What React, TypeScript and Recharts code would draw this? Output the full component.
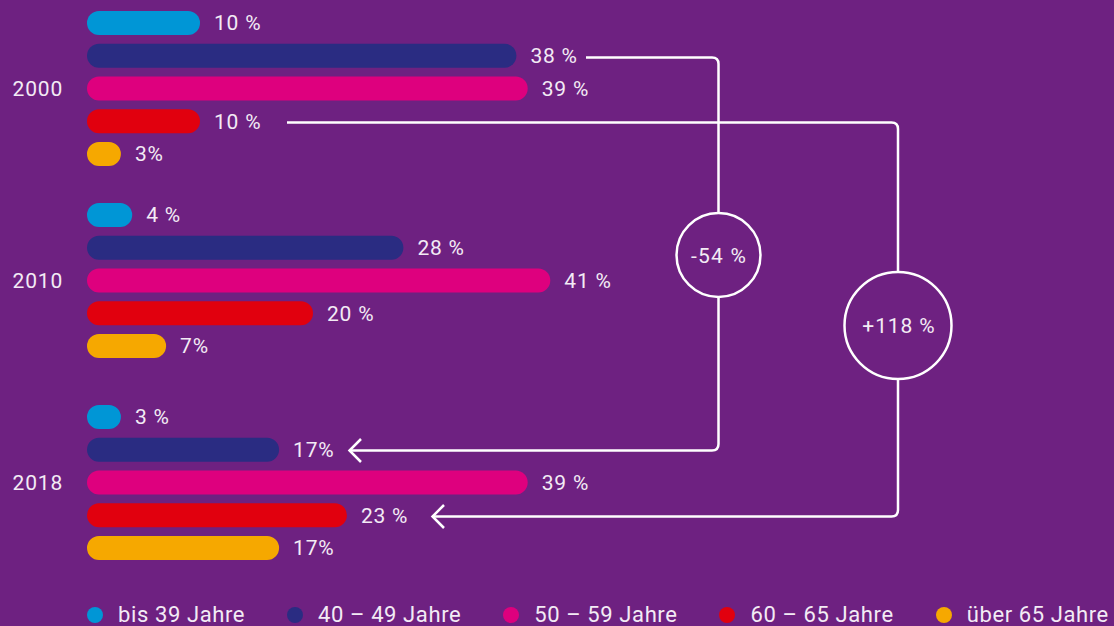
import React from 'react';
import { BarChart, Bar, XAxis, YAxis, Cell, LabelList } from 'recharts';

const ageGroups = ['bis 39 Jahre', '40 – 49 Jahre', '50 – 59 Jahre', '60 – 65 Jahre', 'über 65 Jahre'];
const years = ['2000', '2010', '2018'];
const values2000 = [10, 38, 39, 10, 3];
const values2010 = [4, 28, 41, 20, 7];
const values2018 = [3, 17, 39, 23, 17];
const labels2000 = ['10 %', '38 %', '39 %', '10 %', '3%'];
const labels2010 = ['4 %', '28 %', '41 %', '20 %', '7%'];
const labels2018 = ['3 %', '17%', '39 %', '23 %', '17%'];
const changeLabels = ['-54 %', '+118 %'];
const colors = ['#0096D6', '#2A2C82', '#DE007E', '#E1000E', '#F6A800'];

const BG = '#6E2181';
const TXT = '#F3EBF5';
const FONT = 'Roboto, "Noto Sans", sans-serif';

const groups = [
  { year: years[0], values: values2000, labels: labels2000, top: 6.6 },
  { year: years[1], values: values2010, labels: labels2010, top: 198.6 },
  { year: years[2], values: values2018, labels: labels2018, top: 400.6 },
];

const buildRows = (values: number[], labels: string[]) =>
  ageGroups.map((age, i) => ({ age, value: values[i], label: labels[i] }));

function GroupChart({ year, values, labels }: { year: string; values: number[]; labels: string[] }) {
  const rows = buildRows(values, labels);
  return (
    <BarChart
      layout="vertical"
      width={652}
      height={163.75}
      data={rows}
      margin={{ top: 0, right: 0, bottom: 0, left: 0 }}
      barCategoryGap={0}
    >
      <XAxis type="number" domain={[0, 50]} hide />
      <YAxis
        type="category"
        dataKey="age"
        width={87}
        axisLine={false}
        tickLine={false}
        tickSize={0}
        tickMargin={24}
        interval={0}
        tick={{ fill: TXT, fontSize: 21, fontFamily: FONT }}
        tickFormatter={(v: string, i: number) => (i === 2 ? year : '')}
      />
      <Bar dataKey="value" barSize={24} radius={12} isAnimationActive={false}>
        {rows.map((r, i) => (
          <Cell key={r.age} fill={colors[i]} />
        ))}
        <LabelList
          dataKey="label"
          position="right"
          offset={14}
          fill={TXT}
          fontSize={21}
          fontFamily={FONT}
        />
      </Bar>
    </BarChart>
  );
}

function Connectors() {
  const s = { stroke: '#FFFFFF', strokeWidth: 2.5, fill: 'none' };
  return (
    <svg width={1114} height={626} style={{ position: 'absolute', left: 0, top: 0, pointerEvents: 'none' }}>
      <path d="M 586 57.5 H 712 Q 718.5 57.5 718.5 64 V 213" {...s} />
      <circle cx={718.5} cy={255} r={42} {...s} />
      <path d="M 718.5 297 V 444 Q 718.5 450.5 712 450.5 H 349" {...s} />
      <path d="M 361 439 L 349.5 450.5 L 361 462" {...s} />
      <text x={719} y={255} dy={7.5} textAnchor="middle" fill={TXT} fontSize={21} fontFamily={FONT} style={{ letterSpacing: '1.2px' }}>
        {changeLabels[0]}
      </text>

      <path d="M 287 122.5 H 891.5 Q 898 122.5 898 129 V 272" {...s} />
      <circle cx={898} cy={325.5} r={53.5} {...s} />
      <path d="M 898 379 V 510 Q 898 516.5 891.5 516.5 H 432" {...s} />
      <path d="M 444 505 L 432.5 516.5 L 444 528" {...s} />
      <text x={899} y={325.5} dy={7.5} textAnchor="middle" fill={TXT} fontSize={21} fontFamily={FONT} style={{ letterSpacing: '0.9px' }}>
        {changeLabels[1]}
      </text>
    </svg>
  );
}

function LegendRow() {
  return (
    <div
      style={{
        position: 'absolute',
        left: 87,
        top: 604,
        display: 'flex',
        alignItems: 'center',
        fontFamily: FONT,
        fontSize: 22,
        color: TXT,
        whiteSpace: 'nowrap',
        lineHeight: '22px',
        letterSpacing: '0.6px',
      }}
    >
      {ageGroups.map((g, i) => (
        <div key={g} style={{ display: 'flex', alignItems: 'center', marginRight: 42 }}>
          <span
            style={{
              display: 'inline-block',
              width: 16,
              height: 16,
              borderRadius: 8,
              background: colors[i],
              marginRight: 15,
            }}
          />
          <span>{g}</span>
        </div>
      ))}
    </div>
  );
}

export default function App() {
  return (
    <div
      style={{
        position: 'absolute',
        left: 0,
        top: 0,
        width: 1114,
        height: 626,
        background: BG,
        overflow: 'hidden',
        fontFamily: FONT,
      }}
    >
      {groups.map((g) => (
        <div key={g.year} style={{ position: 'absolute', left: 0, top: g.top, letterSpacing: '0.8px' }}>
          <GroupChart year={g.year} values={g.values} labels={g.labels} />
        </div>
      ))}
      <Connectors />
      <LegendRow />
    </div>
  );
}
